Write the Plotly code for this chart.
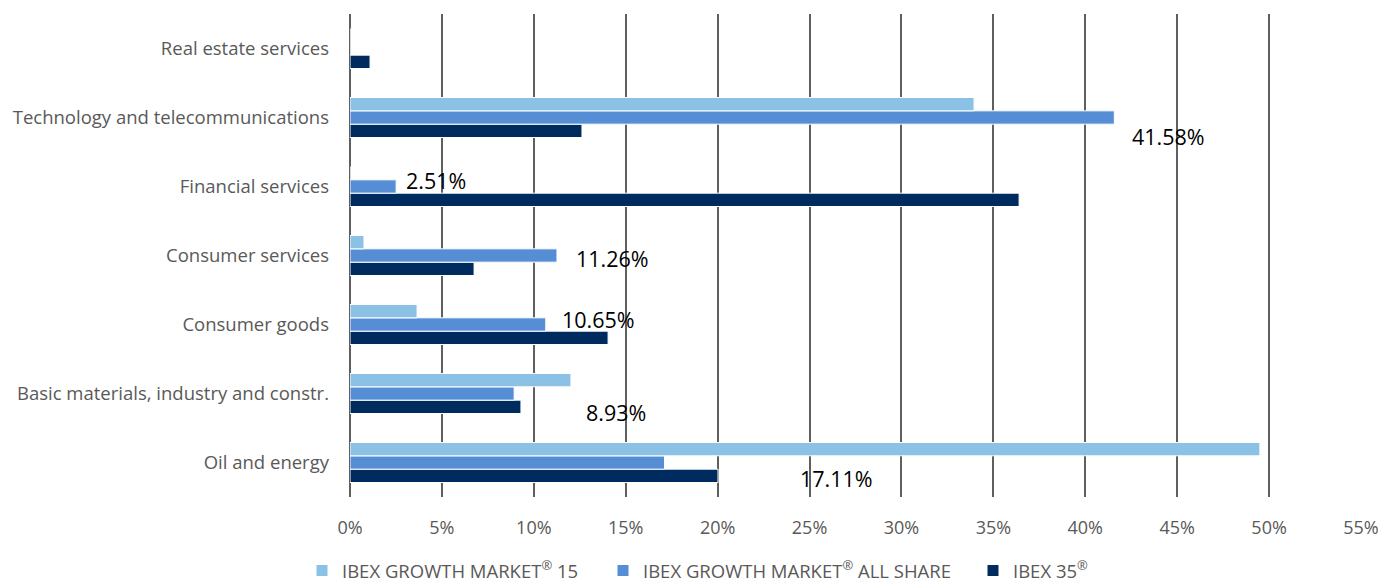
import plotly.graph_objects as go

categories = ["Oil and energy", "Basic materials, industry and constr.", "Consumer goods",
              "Consumer services", "Financial services", "Technology and telecommunications",
              "Real estate services"]
growth15 = [49.5, 12.02, 3.65, 0.76, 0.0, 33.95, 0.0]
all_share = [17.11, 8.93, 10.65, 11.26, 2.51, 41.58, 0.0]
ibex35 = [20.02, 9.3, 14.04, 6.75, 36.4, 12.62, 1.09]
series_names = ["IBEX GROWTH MARKET<sup>®</sup> 15", "IBEX GROWTH MARKET<sup>®</sup> ALL SHARE", "IBEX 35<sup>®</sup>"]
colors = ["#8BC1E4", "#558ED5", "#002B5E"]
x_ticks = list(range(0, 60, 5))

# label offsets (pixels) for the ALL SHARE data labels, relative to bar end
label_dx = [133, 70, 14, 17, 8, 16, 0]
label_dy = [-16, -19, 5, -3, 6, -19, 0]
# legend entry positions (container fraction)
legend_x = [302 / 1381, 603 / 1381, 973 / 1381]
legend_ids = ["legend", "legend2", "legend3"]

fig = go.Figure()
all_vals = [growth15, all_share, ibex35]
for idx in reversed(range(3)):
    fig.add_trace(go.Bar(
        y=categories, x=all_vals[idx], name=series_names[idx], orientation="h",
        marker=dict(color=colors[idx], line=dict(color="white", width=1)),
        hoverinfo="x+y", legend=legend_ids[idx],
    ))

for i, (c, v) in enumerate(zip(categories, all_share)):
    if v <= 0:
        continue
    fig.add_annotation(x=v, y=c, text=f"{v:.2f}%", showarrow=False,
                       xanchor="left", yanchor="middle",
                       xshift=label_dx[i], yshift=label_dy[i],
                       font=dict(family="Open Sans", size=21.5, color="#000000"))

legend_common = dict(orientation="h", xref="container", y=13 / 584, yref="container",
                     yanchor="middle", xanchor="left", bgcolor="rgba(0,0,0,0)",
                     font=dict(family="Open Sans", size=18.5, color="#595959"), itemwidth=30)
fig.update_layout(
    width=1381, height=584,
    margin=dict(l=350, r=20, t=14, b=87, autoexpand=False),
    paper_bgcolor="white", plot_bgcolor="white",
    barmode="group", bargap=0.42, bargroupgap=0,
    font=dict(family="Open Sans", size=18, color="#595959"),
    showlegend=True,
    legend=dict(x=legend_x[0], **legend_common),
    legend2=dict(x=legend_x[1], **legend_common),
    legend3=dict(x=legend_x[2], **legend_common),
)
fig.update_xaxes(range=[0, 55], tickvals=x_ticks, ticktext=[f"{t}%" for t in x_ticks],
                 showgrid=True, gridcolor="#5f5f5f", gridwidth=2,
                 zeroline=True, zerolinecolor="#5f5f5f", zerolinewidth=2,
                 showline=False, ticks="", ticklabelstandoff=18, automargin=False,
                 tickfont=dict(size=18, color="#595959"), fixedrange=True)
fig.update_yaxes(showgrid=False, showline=False, ticks="", ticklabelstandoff=20, automargin=False,
                 tickfont=dict(size=18.5, color="#595959"), fixedrange=True)

fig.write_html("out.html", config={"displayModeBar": False},
               post_script="document.body.style.margin='0';")
